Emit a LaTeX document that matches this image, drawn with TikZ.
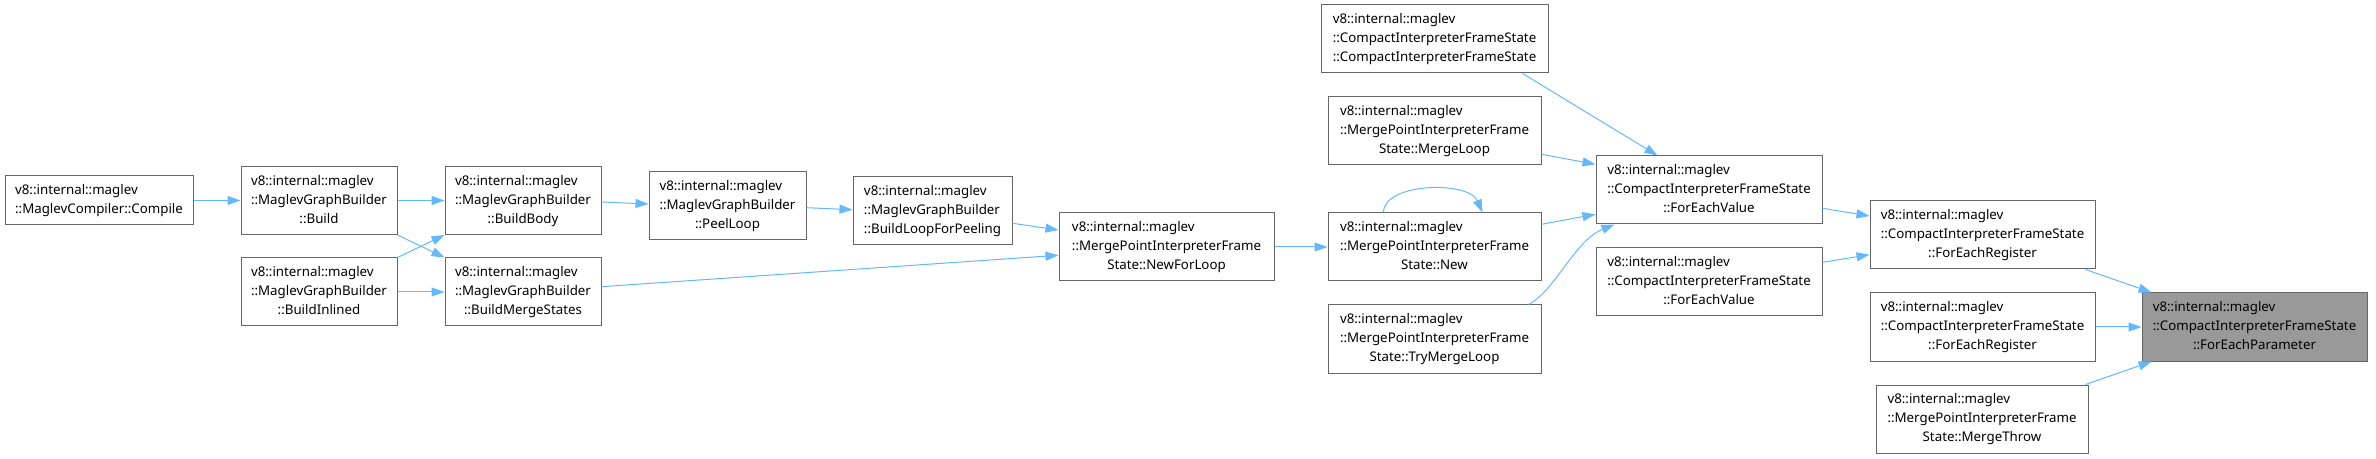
\documentclass[tikz,border=0pt]{standalone}
\usepackage{fontspec}
\setmainfont{Noto Sans}
\usetikzlibrary{arrows.meta}
\definecolor{edgeblue}{HTML}{63B8FF}
\definecolor{boxgray}{HTML}{666666}
\definecolor{hlgray}{HTML}{999999}
\newcommand{\threel}[3]{\begin{tabular}{@{}c@{}}\multicolumn{1}{@{}l@{}}{#1}\\\multicolumn{1}{@{}l@{}}{#2}\\#3\end{tabular}}
\newcommand{\twol}[2]{\begin{tabular}{@{}c@{}}\multicolumn{1}{@{}l@{}}{#1}\\#2\end{tabular}}
\tikzset{
  fnbox/.style={draw=boxgray, line width=1pt, fill=white, inner sep=0pt, minimum height=68pt,
    font=\fontsize{13.3}{19}\selectfont},
  hlbox/.style={fnbox, fill=hlgray},
  edge/.style={draw=edgeblue, line width=1pt, -{Triangle[length=13pt,width=9pt]}}
}
\begin{document}
\begin{tikzpicture}[x=1pt,y=1pt]
\useasboundingbox (0,0) rectangle (2376,458);
% nodes
\node[fnbox, minimum width=188pt, minimum height=49pt] (compile) at (99,257.5) {\twol{v8::internal::maglev}{::MaglevCompiler::Compile}};
\node[fnbox, minimum width=156pt] (build) at (319,257.5) {\threel{v8::internal::maglev}{::MaglevGraphBuilder}{::Build}};
\node[fnbox, minimum width=156pt] (body) at (523,257.5) {\threel{v8::internal::maglev}{::MaglevGraphBuilder}{::BuildBody}};
\node[fnbox, minimum width=156pt] (inlined) at (319,166) {\threel{v8::internal::maglev}{::MaglevGraphBuilder}{::BuildInlined}};
\node[fnbox, minimum width=156pt] (bms) at (523,166) {\threel{v8::internal::maglev}{::MaglevGraphBuilder}{::BuildMergeStates}};
\node[fnbox, minimum width=157pt] (peel) at (727.5,252) {\threel{v8::internal::maglev}{::MaglevGraphBuilder}{::PeelLoop}};
\node[fnbox, minimum width=159pt] (blfp) at (932.5,247) {\threel{v8::internal::maglev}{::MaglevGraphBuilder}{::BuildLoopForPeeling}};
\node[fnbox, minimum width=215pt] (nfl) at (1166.5,211) {\threel{v8::internal::maglev}{::MergePointInterpreterFrame}{State::NewForLoop}};
\node[fnbox, minimum width=227pt] (cifs) at (1434.5,419) {\threel{v8::internal::maglev}{::CompactInterpreterFrameState}{::CompactInterpreterFrameState}};
\node[fnbox, minimum width=213pt] (mloop) at (1434.5,327) {\threel{v8::internal::maglev}{::MergePointInterpreterFrame}{State::MergeLoop}};
\node[fnbox, minimum width=213pt] (new) at (1434.5,211) {\threel{v8::internal::maglev}{::MergePointInterpreterFrame}{State::New}};
\node[fnbox, minimum width=213pt] (tml) at (1434.5,119) {\threel{v8::internal::maglev}{::MergePointInterpreterFrame}{State::TryMergeLoop}};
\node[fnbox, minimum width=226pt] (fev1) at (1709,268) {\threel{v8::internal::maglev}{::CompactInterpreterFrameState}{::ForEachValue}};
\node[fnbox, minimum width=226pt] (fev2) at (1709,176) {\threel{v8::internal::maglev}{::CompactInterpreterFrameState}{::ForEachValue}};
\node[fnbox, minimum width=225pt] (fer1) at (1982.5,223) {\threel{v8::internal::maglev}{::CompactInterpreterFrameState}{::ForEachRegister}};
\node[fnbox, minimum width=225pt] (fer2) at (1982.5,131) {\threel{v8::internal::maglev}{::CompactInterpreterFrameState}{::ForEachRegister}};
\node[fnbox, minimum width=212pt] (mthrow) at (1982,39) {\threel{v8::internal::maglev}{::MergePointInterpreterFrame}{State::MergeThrow}};
\node[hlbox, minimum width=225pt] (fep) at (2254.5,131) {\threel{v8::internal::maglev}{::CompactInterpreterFrameState}{::ForEachParameter}};
% edges
\draw[edge] (compile.east) -- (build.west);
\draw[edge] (build.east) -- (body.west);
\draw[edge] (build.south east) -- (bms.north west);
\draw[edge] (inlined.north east) -- (body.south west);
\draw[edge] (inlined.east) -- (bms.west);
\draw[edge] ([yshift=-1.5pt]body.east) -- ([yshift=2pt]peel.west);
\draw[edge] ([yshift=-1.7pt]peel.east) -- ([yshift=1.3pt]blfp.west);
\draw[edge] ([yshift=-12.3pt]blfp.east) -- ([yshift=17pt]nfl.west);
\draw[edge] ([yshift=5.3pt]bms.east) -- ([yshift=-8.3pt]nfl.west);
\draw[edge] (nfl.east) -- (new.west);
\draw[edge] ([xshift=56pt]new.north west) .. controls +(0,30) and +(-14,32) .. ([xshift=155pt]new.north west);
\draw[edge] ([yshift=-23.3pt]mloop.east) -- ([yshift=25.7pt]fev1.west);
\draw[edge] ([yshift=22.7pt]new.east) -- ([yshift=-24.3pt]fev1.west);
\draw[edge] ([xshift=-13pt]tml.north east) .. controls +(27,14) and +(-40,-16) .. ([xshift=19pt]fev1.south west);
\draw[edge] ([xshift=202pt]cifs.south west) -- ([xshift=62pt]fev1.north west);
\draw[edge] ([yshift=-18.3pt]fev1.east) -- ([yshift=19pt]fer1.west);
\draw[edge] ([yshift=19.7pt]fev2.east) -- ([yshift=-19.7pt]fer1.west);
\draw[edge] ([xshift=-10pt]fer1.south east) -- ([xshift=10pt]fep.north west);
\draw[edge] (fer2.east) -- (fep.west);
\draw[edge] ([xshift=-3pt]mthrow.north east) -- ([xshift=10pt]fep.south west);
\end{tikzpicture}
\end{document}
